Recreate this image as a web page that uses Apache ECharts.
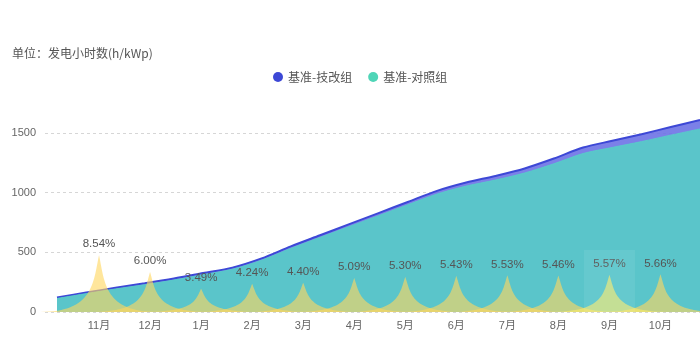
<!DOCTYPE html>
<html>
<head>
<meta charset="utf-8">
<script src="https://cdn.jsdelivr.net/npm/echarts@6/dist/echarts.min.js"></script>
<style>
  html, body { margin: 0; padding: 0; background: #fff; }
  #chart { width: 700px; height: 340px; }
</style>
</head>
<body>
<div id="chart"></div>
<script>
// Months shown on the axis, one spike per month
const months = ['11月', '12月', '1月', '2月', '3月', '4月', '5月', '6月', '7月', '8月', '9月', '10月'];
// Monthly gain of the retrofit group over the control group (%)
const gainPct = [8.54, 6.00, 3.49, 4.24, 4.40, 5.09, 5.30, 5.43, 5.53, 5.46, 5.57, 5.66];

// Half-month sample dates for the cumulative curves
const curveDates = ['10/25', '11/10', '11/25', '12/10', '12/25', '1/10', '1/25', '2/10', '2/25',
  '3/10', '3/25', '4/10', '4/25', '5/10', '5/25', '6/10', '6/25', '7/10', '7/25',
  '8/10', '8/25', '9/10', '9/25'];
// Cumulative generation hours (h/kWp)
const retrofitHours = [121, 163, 203, 240, 280, 326, 372, 449, 550, 643, 736, 829, 922, 1015,
  1085, 1140, 1203, 1286, 1378, 1435, 1490, 1550, 1609];
const controlHours = [113, 154, 193, 229, 268, 313, 358, 434, 533, 625, 716, 807, 898, 988,
  1055, 1106, 1165, 1242, 1328, 1379, 1428, 1482, 1534];

const yTicks = { min: 0, max: 1500, interval: 500 };

const FONT = '"Liberation Sans", "Noto Sans CJK SC", sans-serif';
const CJK_FONT = '"Noto Sans CJK SC", "Liberation Sans", sans-serif';
const spikePath = 'path://M0,10 L10,10 C5.5,10 5.5,5 5,0 C4.5,5 4.5,10 0,10 z';

const chart = echarts.init(document.getElementById('chart'), null, { renderer: 'canvas' });

const option = {
  animation: false,
  textStyle: { fontFamily: FONT },
  title: {
    text: '单位：发电小时数(h/kWp)',
    left: 7, top: 42,
    textStyle: { fontSize: 12, fontWeight: 'normal', color: '#555', fontFamily: CJK_FONT }
  },
  legend: {
    left: 268, top: 66,
    icon: 'circle',
    itemWidth: 10, itemHeight: 10,
    itemGap: 16,
    textStyle: { fontSize: 12, color: '#555', fontFamily: CJK_FONT },
    data: ['基准-技改组', '基准-对照组']
  },
  tooltip: {
    trigger: 'axis',
    showContent: false,
    axisPointer: { type: 'shadow', shadowStyle: { color: 'rgba(255,255,255,0.07)' } }
  },
  grid: [
    // value axis with the dashed guides
    { left: 45, right: 0, top: 133, bottom: 28 },
    // cumulative curves
    { left: 57, right: 0, top: 133, bottom: 28 },
    // monthly spikes and month labels
    { left: 73.5, right: 14, top: 250, bottom: 28 }
  ],
  xAxis: [
    { gridIndex: 0, type: 'category', data: months, show: false, axisPointer: { show: false } },
    { gridIndex: 1, type: 'category', data: curveDates, boundaryGap: false, show: false, axisPointer: { show: false } },
    {
      gridIndex: 2, type: 'category', data: months, boundaryGap: true,
      axisLine: { show: false }, axisTick: { show: false },
      axisLabel: { color: '#666', fontSize: 11, margin: 8, fontFamily: FONT }
    }
  ],
  yAxis: [
    {
      gridIndex: 0, type: 'value', min: yTicks.min, max: yTicks.max, interval: yTicks.interval,
      axisLine: { show: false }, axisTick: { show: false },
      axisLabel: { color: '#666', fontSize: 11, margin: 9, fontFamily: FONT, formatter: v => String(v) },
      splitLine: { lineStyle: { color: '#d6d6d6', type: [3, 3] } }
    },
    { gridIndex: 1, type: 'value', min: yTicks.min, max: yTicks.max, show: false },
    { gridIndex: 2, type: 'value', min: 0, max: 9.3, show: false }
  ],
  series: [
    {
      name: '基准-技改组', type: 'line',
      xAxisIndex: 1, yAxisIndex: 1,
      data: retrofitHours,
      smooth: 0.3, symbol: 'none', clip: false, z: 2,
      itemStyle: { color: '#3d48d6' },
      lineStyle: { color: '#3d48d6', width: 2 },
      areaStyle: { color: 'rgba(109,114,229,0.9)', opacity: 1 }
    },
    {
      name: '基准-对照组', type: 'line',
      xAxisIndex: 1, yAxisIndex: 1,
      data: controlHours,
      smooth: 0.3, symbol: 'none', clip: false, z: 3,
      itemStyle: { color: '#4fd5b7' },
      lineStyle: { color: 'rgba(86,205,200,0.9)', width: 1 },
      areaStyle: { color: 'rgba(86,210,197,0.85)', opacity: 1 }
    },
    {
      name: '提升比例', type: 'pictorialBar',
      xAxisIndex: 2, yAxisIndex: 2,
      data: gainPct,
      z: 10,
      symbol: spikePath,
      barCategoryGap: '-130%',
      itemStyle: { color: 'rgba(255,215,95,0.62)' },
      label: {
        show: true, position: 'top', distance: 5,
        color: '#555', fontSize: 11.5, fontFamily: FONT,
        formatter: p => p.value.toFixed(2) + '%'
      }
    }
  ]
};

chart.setOption(option);
// highlight the September column
chart.dispatchAction({ type: 'showTip', seriesIndex: 2, dataIndex: 10 });
</script>
</body>
</html>
